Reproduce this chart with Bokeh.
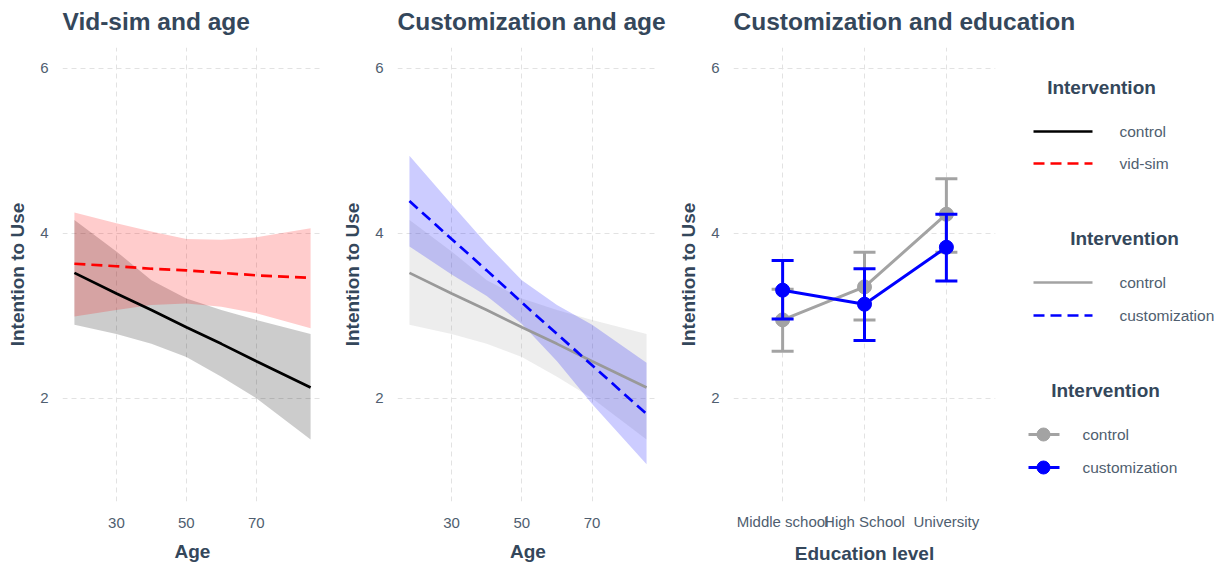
from bokeh.plotting import figure
from bokeh.models import Range1d, FactorRange, FixedTicker
from bokeh.layouts import row, column
from bokeh.embed import file_html
from bokeh.resources import INLINE
from bokeh.core.properties import value

# ---------------- data ----------------
age = [18, 30, 40, 50, 60, 70, 85.5]

ctrl_fit = [3.52, 3.27, 3.07, 2.86, 2.66, 2.45, 2.13]
ctrl_lo = [2.89, 2.78, 2.66, 2.50, 2.26, 2.00, 1.50]
ctrl_hi = [4.16, 3.78, 3.43, 3.21, 3.07, 2.95, 2.78]

vid_fit = [3.63, 3.60, 3.57, 3.55, 3.52, 3.49, 3.46]
vid_lo = [2.99, 3.07, 3.13, 3.15, 3.11, 3.03, 2.85]
vid_hi = [4.25, 4.12, 4.02, 3.93, 3.92, 3.95, 4.06]

cust_fit = [4.39, 3.93, 3.55, 3.16, 2.78, 2.40, 1.81]
cust_lo = [3.84, 3.50, 3.24, 2.90, 2.45, 1.93, 1.20]
cust_hi = [4.94, 4.35, 3.87, 3.43, 3.13, 2.89, 2.43]

edu = ["Middle school", "High School", "University"]
edu_ctrl_mean = [2.95, 3.35, 4.23]
edu_ctrl_lo = [2.57, 2.95, 3.77]
edu_ctrl_hi = [3.32, 3.77, 4.66]
edu_cust_mean = [3.31, 3.14, 3.83]
edu_cust_lo = [2.96, 2.70, 3.42]
edu_cust_hi = [3.67, 3.57, 4.23]

x_ticks = [30, 50, 70]
y_ticks = [2, 4, 6]

titles = ["Vid-sim and age", "Customization and age", "Customization and education"]
legend_titles = ["Intervention", "Intervention", "Intervention"]
legend1_labels = ["control", "vid-sim"]
legend2_labels = ["control", "customization"]
legend3_labels = ["control", "customization"]

# ---------------- style / layout ----------------
FONT = "Liberation Sans"
TITLE_C = "#34475b"
TICK_C = "#4f5e6f"
GRID_C = "#e2e2e2"
GRAY = "#a3a3a3"
W_TOTAL = 1225
TOP_H = 47          # title strip height
ROW_H = 524         # panel row height
BOTTOM = 70         # bottom border of panels
FRAME_LEFTS = [62, 397, 733]


def make_fig(width, left, right, x_range, xlabel, cat=False):
    p = figure(width=width, height=ROW_H, x_range=x_range, y_range=Range1d(0.75, 6.25),
               output_backend="svg", toolbar_location=None,
               min_border_left=left, min_border_right=right,
               min_border_top=0, min_border_bottom=BOTTOM)
    p.outline_line_color = None
    p.title.visible = False
    for ax in (p.xaxis[0], p.yaxis[0]):
        ax.axis_line_color = None
        ax.major_tick_line_color = None
        ax.minor_tick_line_color = None
        ax.major_tick_out = 0
        ax.major_tick_in = 0
        ax.major_label_text_font = FONT
        ax.major_label_text_font_size = "15px"
        ax.major_label_text_color = TICK_C
        ax.axis_label_text_font = FONT
        ax.axis_label_text_font_size = "19px"
        ax.axis_label_text_font_style = "bold"
        ax.axis_label_text_color = TITLE_C
    p.yaxis.ticker = FixedTicker(ticks=y_ticks)
    p.yaxis.axis_label = "Intention to Use"
    p.yaxis.major_label_standoff = 14
    p.yaxis.axis_label_standoff = 9
    p.xaxis.axis_label = xlabel
    p.xaxis.major_label_standoff = 11 if cat else 16
    p.xaxis.axis_label_standoff = 10
    for g in (p.xgrid[0], p.ygrid[0]):
        g.grid_line_color = GRID_C
        g.grid_line_dash = "5 4"
        g.grid_line_width = 1
    return p


# Title strip
pt = figure(width=W_TOTAL, height=TOP_H, x_range=Range1d(0, W_TOTAL), y_range=Range1d(TOP_H, 0),
            output_backend="svg", toolbar_location=None, min_border=0)
pt.outline_line_color = None
pt.title.visible = False
pt.axis.visible = False
pt.grid.visible = False
pt.text(x=FRAME_LEFTS, y=[21, 21, 21], text=titles, text_font=value(FONT),
        text_font_size="24.5px", text_font_style="bold", text_color=TITLE_C,
        text_align="left", text_baseline="alphabetic")

# Panel 1: Vid-sim and age
p1 = make_fig(334, 62, 12, Range1d(14.6, 88.9), "Age")
p1.xaxis.ticker = FixedTicker(ticks=x_ticks)
p1.varea(x=age, y1=ctrl_lo, y2=ctrl_hi, fill_color="black", fill_alpha=0.2)
p1.varea(x=age, y1=vid_lo, y2=vid_hi, fill_color="red", fill_alpha=0.2)
p1.line(age, ctrl_fit, line_color="black", line_width=2.7)
p1.line(age, vid_fit, line_color="red", line_width=2.7, line_dash="11 6")

# Panel 2: Customization and age
p2 = make_fig(337, 63, 13, Range1d(14.6, 88.9), "Age")
p2.xaxis.ticker = FixedTicker(ticks=x_ticks)
p2.varea(x=age, y1=ctrl_lo, y2=ctrl_hi, fill_color=GRAY, fill_alpha=0.2)
p2.varea(x=age, y1=cust_lo, y2=cust_hi, fill_color="blue", fill_alpha=0.2)
p2.line(age, ctrl_fit, line_color="#999999", line_width=2.7)
p2.line(age, cust_fit, line_color="blue", line_width=2.7, line_dash="11 6")

# Panel 3: Customization and education
p3 = make_fig(339, 62, 15,
              FactorRange(factors=edu, range_padding=0.1, range_padding_units="absolute"),
              "Education level", cat=True)
p3.xgrid.ticker = p3.xaxis.ticker
for mean, lo, hi, col in ((edu_ctrl_mean, edu_ctrl_lo, edu_ctrl_hi, GRAY),
                          (edu_cust_mean, edu_cust_lo, edu_cust_hi, "blue")):
    p3.segment(x0=edu, y0=lo, x1=edu, y1=hi, line_color=col, line_width=3)
    p3.scatter(x=edu, y=lo, marker="dash", size=22, line_color=col, line_width=3)
    p3.scatter(x=edu, y=hi, marker="dash", size=22, line_color=col, line_width=3)
    p3.line(x=edu, y=mean, line_color=col, line_width=3)
    p3.scatter(x=edu, y=mean, marker="circle", size=14, fill_color=col, line_color=col)

# Legend panel (coordinates in page pixels)
frame_bottom = TOP_H + ROW_H - BOTTOM
pl = figure(width=W_TOTAL - 1010, height=ROW_H, x_range=Range1d(1010, W_TOTAL),
            y_range=Range1d(frame_bottom, TOP_H),
            output_backend="svg", toolbar_location=None,
            min_border_left=0, min_border_right=0, min_border_top=0, min_border_bottom=BOTTOM)
pl.outline_line_color = None
pl.title.visible = False
pl.axis.visible = False
pl.grid.visible = False

pl.text(x=[1101, 1124, 1105], y=[87, 238, 390], text=legend_titles,
        text_font=value(FONT), text_font_size="19px", text_font_style="bold",
        text_color=TITLE_C, text_align="center", text_baseline="middle")

pl.line([1033, 1092], [131, 131], line_color="black", line_width=2.7)
pl.line([1033, 1092], [163, 163], line_color="red", line_width=2.7, line_dash="11 6")
pl.text(x=[1119, 1119], y=[131, 163], text=legend1_labels,
        text_font=value(FONT), text_font_size="15.5px", text_color=TICK_C,
        text_align="left", text_baseline="middle")

pl.line([1033, 1092], [282, 282], line_color=GRAY, line_width=2.7)
pl.line([1033, 1092], [315, 315], line_color="blue", line_width=2.7, line_dash="11 6")
pl.text(x=[1119, 1119], y=[282, 315], text=legend2_labels,
        text_font=value(FONT), text_font_size="15.5px", text_color=TICK_C,
        text_align="left", text_baseline="middle")

for yy, col in ((434, GRAY), (467, "blue")):
    pl.line([1028, 1059], [yy, yy], line_color=col, line_width=3)
    pl.scatter([1043], [yy], marker="circle", size=13, fill_color=col, line_color=col)
pl.text(x=[1082, 1082], y=[434, 467], text=legend3_labels,
        text_font=value(FONT), text_font_size="15.5px", text_color=TICK_C,
        text_align="left", text_baseline="middle")

layout = column(pt, row(p1, p2, p3, pl))
open("out.html", "w").write(file_html(layout, INLINE))
